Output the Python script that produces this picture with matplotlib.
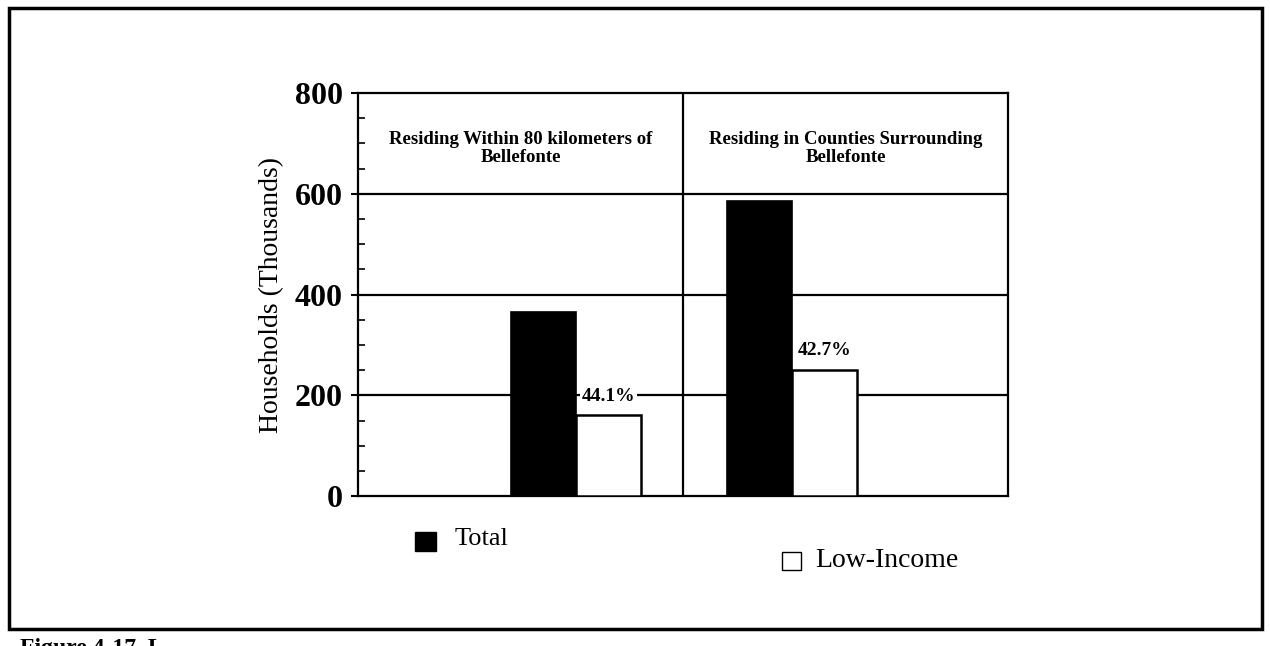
import matplotlib.pyplot as plt
import matplotlib.patches as mpatches
from matplotlib.ticker import MultipleLocator

plt.rcParams['font.family'] = ['Liberation Serif', 'DejaVu Serif']

# === Data ===
panel_titles = ["Residing Within 80 kilometers of\nBellefonte",
                "Residing in Counties Surrounding\nBellefonte"]
series_names = ["Total", "Low-Income"]
total_hh = [365, 585]        # thousands
low_income_hh = [161, 250]   # thousands
pct_labels = ["44.1%", "42.7%"]
yticks = [0, 200, 400, 600, 800]

fig = plt.figure(figsize=(12.7, 6.46), dpi=100)
ax = fig.add_axes([0.282, 0.232, 0.512, 0.624])

# group centres within each panel (panel 0: x 0-1, panel 1: x 1-2)
centres = [0.67, 1.335]
w = 0.2
ax.bar([c - w / 2 for c in centres], total_hh, width=w, color="black",
       edgecolor="black", linewidth=1.2, zorder=3)
ax.bar([c + w / 2 for c in centres], low_income_hh, width=w, color="white",
       edgecolor="black", linewidth=1.8, zorder=3)

# gridlines and panel divider
for y in [200, 400, 600]:
    ax.axhline(y, color="black", linewidth=1.6, zorder=1)
ax.axvline(1, color="black", linewidth=1.6, zorder=1)

# panel headers
for i, t in enumerate(panel_titles):
    ax.text(i + 0.5, 690, t, ha="center", va="center", fontsize=13.5,
            fontweight="bold", linespacing=1.1)

# percentage labels
ax.text(centres[0] + w / 2, low_income_hh[0] + 36, pct_labels[0],
        ha="center", va="center", fontsize=14, fontweight="bold",
        bbox=dict(facecolor="white", edgecolor="none", pad=1.5), zorder=4)
ax.text(centres[1] + w / 2, low_income_hh[1] + 40, pct_labels[1],
        ha="center", va="center", fontsize=14, fontweight="bold", zorder=4)

ax.set_xlim(0, 2)
ax.set_ylim(0, 800)
ax.set_xticks([])
ax.set_yticks(yticks)
ax.yaxis.set_minor_locator(MultipleLocator(50))
ax.tick_params(axis="y", which="major", length=5, width=1.5, direction="out",
               labelsize=23, pad=6)
ax.tick_params(axis="y", which="minor", length=5, width=1.2, direction="in")
for lab in ax.get_yticklabels():
    lab.set_fontweight("bold")
for s in ax.spines.values():
    s.set_linewidth(1.6)
ax.set_ylabel("Households (Thousands)", fontsize=20, labelpad=8)

# legend (placed by hand like the original)
fig.patches.append(mpatches.Rectangle((0.327, 0.147), 0.016, 0.03,
                                      facecolor="black", edgecolor="black",
                                      transform=fig.transFigure))
fig.text(0.358, 0.165, series_names[0], fontsize=19, va="center")
fig.patches.append(mpatches.Rectangle((0.616, 0.118), 0.015, 0.028,
                                      facecolor="white", edgecolor="black",
                                      linewidth=1.0, transform=fig.transFigure))
fig.text(0.642, 0.132, series_names[1], fontsize=20, va="center")

# outer frame
fig.patches.append(mpatches.Rectangle((0.007, 0.027), 0.987, 0.96,
                                      fill=False, edgecolor="black",
                                      linewidth=2.5, transform=fig.transFigure))

# caption, cut by the page edge as in the scan
fig.text(0.016, 0.012, "Figure 4-17. L", fontsize=17, fontweight="bold",
         va="top", ha="left")

fig.savefig("out.png", dpi=100, facecolor="white")
